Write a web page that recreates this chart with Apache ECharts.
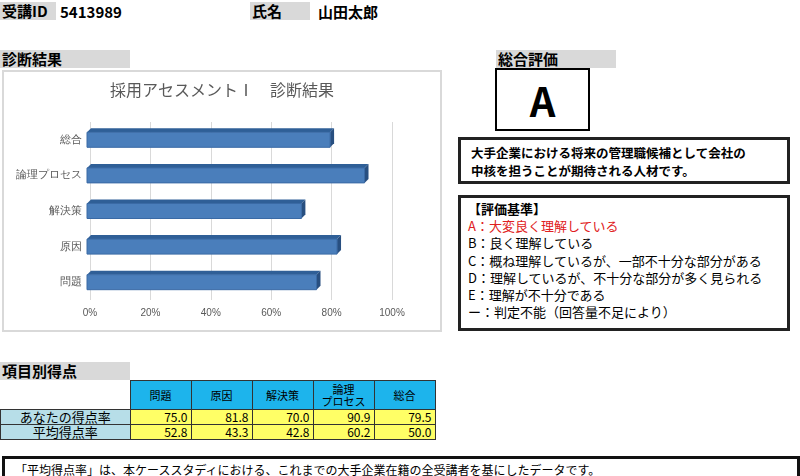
<!DOCTYPE html>
<html><head><meta charset="utf-8">
<script src="https://cdn.jsdelivr.net/npm/echarts@6/dist/echarts.min.js"></script>
<style>
body{margin:0;width:800px;height:476px;position:relative;background:#fff;font-family:"Noto Sans CJK JP",sans-serif;overflow:hidden}
.a{position:absolute;box-sizing:border-box}
.g{background:#d9d9d9;font-weight:bold;font-size:15px;line-height:18px;padding-left:2px}
.b{font-weight:bold;font-size:15px}
table{border-collapse:collapse;font-size:12px;font-family:"Noto Sans CJK JP"}
td{border:1px solid #333;padding:0 3px;height:14px;line-height:14px}
</style></head><body>
<div class="a g" style="left:0;top:2px;width:56px;">受講ID</div>
<div class="a b" style="left:60px;top:1px">5413989</div>
<div class="a g" style="left:250px;top:2px;width:60px;">氏名</div>
<div class="a b" style="left:318px;top:1px">山田太郎</div>
<div class="a g" style="left:0;top:50px;width:130px;">診断結果</div>
<div class="a" id="c" style="left:2px;top:70px;width:440px;height:262px;border:2px solid #d9d9d9"></div>
<div class="a g" style="left:496px;top:50px;width:120px;">総合評価</div>
<div class="a" style="left:495px;top:68px;width:95px;height:63px;border:2px solid #000;text-align:center;font-size:40px;font-weight:bold;line-height:60px;font-family:'Noto Sans CJK JP'">A</div>
<div class="a" style="left:458px;top:137px;width:332px;height:47px;border:3px solid #222;font-size:12.5px;font-weight:bold;padding:4px 10px;line-height:18px">大手企業における将来の管理職候補として会社の<br>中核を担うことが期待される人材です。</div>
<div class="a" style="left:458px;top:195px;width:332px;height:136px;border:3px solid #222;font-size:13px;padding:2px 7px;line-height:17.2px">
<b>【評価基準】</b><br><span style="color:#e02020">A：大変良く理解している</span><br>B：良く理解している<br>C：概ね理解しているが、一部不十分な部分がある<br>D：理解しているが、不十分な部分が多く見られる<br>E：理解が不十分である<br>ー：判定不能（回答量不足により）</div>
<div class="a g" style="left:0;top:362px;width:130px;">項目別得点</div>
<div class="a" style="left:0;top:380px">
<table id="t"></table></div>
<div class="a" style="left:2px;top:456px;width:798px;height:30px;border:3px solid #111;font-size:12px;padding:2px 10px">「平均得点率」は、本ケーススタディにおける、これまでの大手企業在籍の全受講者を基にしたデータです。</div>
<script>
const categories=['問題','原因','解決策','論理プロセス','総合'];
const headerLabels=['問題','原因','解決策','論理<br>プロセス','総合'];
const yourScores=[75.0,81.8,70.0,90.9,79.5];
const avgScores=[52.8,43.3,42.8,60.2,50.0];
const xTicks=[0,20,40,60,80,100];

let h='<tr><td style="border:none;width:123px"></td>'+headerLabels.map(x=>`<td style="background:#1db4ec;width:54px;text-align:center;height:28px;line-height:12px;font-size:11px">${x}</td>`).join('')+'</tr>';
h+='<tr><td style="background:#b7dee8;text-align:center;font-size:13px">あなたの得点率</td>'+yourScores.map(v=>`<td style="background:#ffff66;text-align:right">${v.toFixed(1)}</td>`).join('')+'</tr>';
h+='<tr><td style="background:#b7dee8;text-align:center;font-size:13px">平均得点率</td>'+avgScores.map(v=>`<td style="background:#ffff66;text-align:right">${v.toFixed(1)}</td>`).join('')+'</tr>';
document.getElementById('t').innerHTML=h;

const ch=echarts.init(document.getElementById('c'));
ch.setOption({
 animation:false,
 title:{text:'採用アセスメントⅠ　診断結果',left:'center',top:5,textStyle:{fontSize:16,fontWeight:'normal',color:'#595959',fontFamily:'Noto Sans CJK JP'}},
 grid:{left:86,right:48,top:50,bottom:30},
 xAxis:{type:'value',min:0,max:100,interval:20,axisLabel:{formatter:v=>v+'%',color:'#595959',fontSize:10},splitLine:{lineStyle:{color:'#d9d9d9'}},axisLine:{show:false}},
 yAxis:{type:'category',data:categories,axisLine:{show:false},axisTick:{show:false},axisLabel:{color:'#595959',fontSize:11,margin:8}},
 series:[{type:'custom',data:yourScores.map((v,i)=>[v,i]),encode:{x:0,y:1},
  renderItem:(p,api)=>{
   const e=api.coord([api.value(0),api.value(1)]);
   const s=api.coord([0,api.value(1)]);
   const hh=15,d=4;
   const x0=s[0]-3,x1=e[0],y0=e[1]-hh/2,y1=e[1]+hh/2;
   return {type:'group',children:[
    {type:'polygon',shape:{points:[[x0,y0],[x0+d,y0-d],[x1+d,y0-d],[x1,y0]]},style:{fill:'#2f5f97'}},
    {type:'polygon',shape:{points:[[x1,y0],[x1+d,y0-d],[x1+d,y1-d],[x1,y1]]},style:{fill:'#284f80'}},
    {type:'rect',shape:{x:x0,y:y0,width:x1-x0,height:hh},style:{fill:'#4a7ebb',stroke:'#3a6aa5',lineWidth:1}}
   ]};
  }}]
});
</script></body></html>
